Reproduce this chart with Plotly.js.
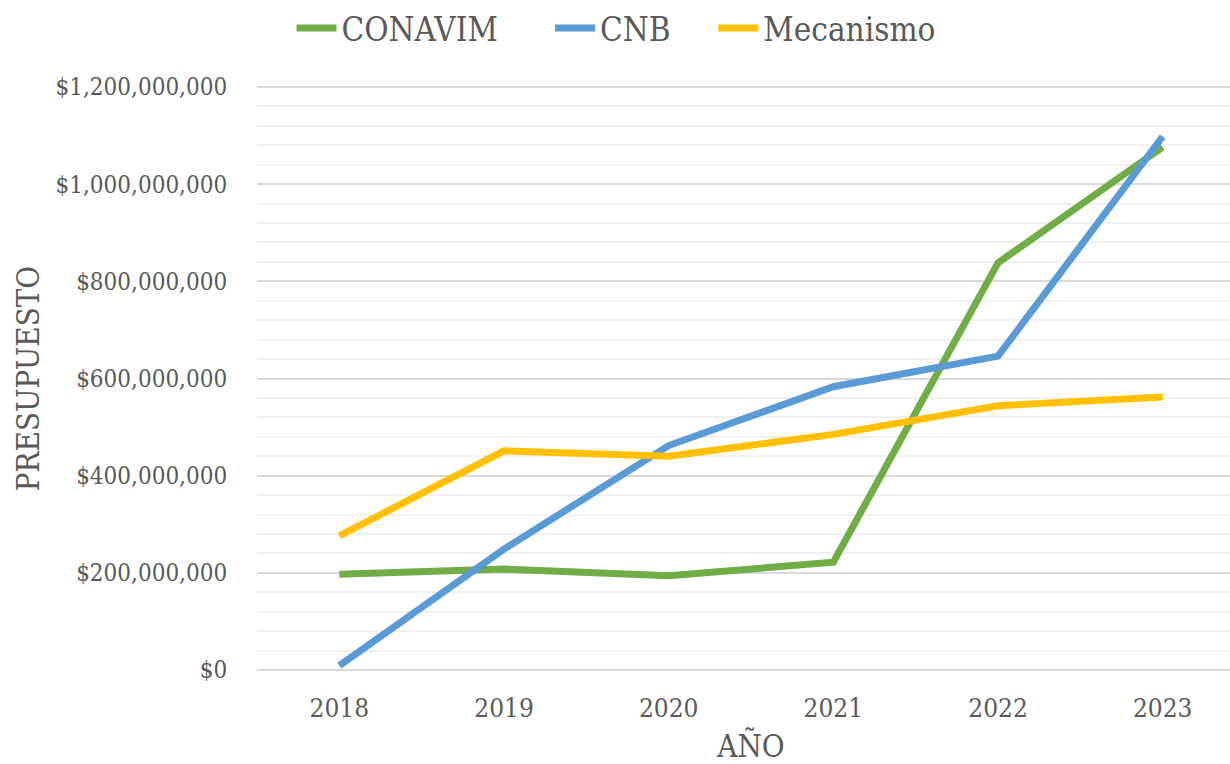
<!DOCTYPE html>
<html>
<head>
<meta charset="utf-8">
<script src="https://cdn.plot.ly/plotly-3.0.1.min.js"></script>
<style>html,body{margin:0;padding:0;background:#fff;overflow:hidden;}#chart{width:1245px;height:764px;}</style>
</head>
<body>
<div id="chart"></div>
<script>
const years = ['2018', '2019', '2020', '2021', '2022', '2023'];
const conavim = [197e6, 208e6, 194e6, 222e6, 838e6, 1076e6];
const cnb = [9e6, 249e6, 462e6, 583e6, 646e6, 1098e6];
const mecanismo = [276e6, 451e6, 440e6, 485e6, 544e6, 562e6];
const seriesNames = ['CONAVIM', 'CNB', 'Mecanismo'];
const colors = ['#70AD47', '#5B9BD5', '#FFC000'];

const FONT = 'DejaVu Serif Condensed, DejaVu Serif, serif';
const values = [conavim, cnb, mecanismo];
const NB = '\u00a0';
const pads = [NB.repeat(5), NB.repeat(4), ''];
const traces = values.map((v, i) => ({
  x: years, y: v, type: 'scatter', mode: 'lines',
  name: seriesNames[i] + pads[i],
  line: {color: colors[i], width: 7}
}));

const layout = {
  width: 1245, height: 764,
  margin: {l: 257, r: 0, t: 85, b: 92},
  paper_bgcolor: '#fff', plot_bgcolor: '#fff',
  font: {family: FONT, color: '#595959'},
  showlegend: true,
  legend: {orientation: 'h', x: 0.4948, xanchor: 'center', y: 1.0, yanchor: 'top',
           xref: 'container', yref: 'container', font: {size: 33, color: '#595959'},
           itemwidth: 40, bgcolor: 'rgba(0,0,0,0)'},
  xaxis: {
    type: 'category', range: [-0.5, 5.5], showgrid: false, zeroline: false,
    showline: false, ticks: 'outside', ticklen: 13, tickcolor: 'rgba(0,0,0,0)',
    tickfont: {size: 26, color: '#595959'},
    title: {text: 'AÑO', font: {size: 31, color: '#595959'}, standoff: 14}
  },
  yaxis: {
    range: [-4e6, 1.204e9], tick0: 0, dtick: 200e6, tickformat: ',d', tickprefix: '$',
    showgrid: true, gridcolor: '#d9d9d9', gridwidth: 2,
    zeroline: false, showline: false,
    ticks: 'outside', ticklen: 24, tickcolor: 'rgba(0,0,0,0)',
    tickfont: {size: 24, color: '#595959'},
    minor: {tick0: 0, dtick: 40e6, showgrid: true, gridcolor: '#f0f0f0', gridwidth: 2},
    title: {text: 'PRESUPUESTO', font: {size: 31, color: '#595959'}, standoff: 6}
  }
};

Plotly.newPlot('chart', traces, layout, {displayModeBar: false, staticPlot: true});
</script>
</body>
</html>
